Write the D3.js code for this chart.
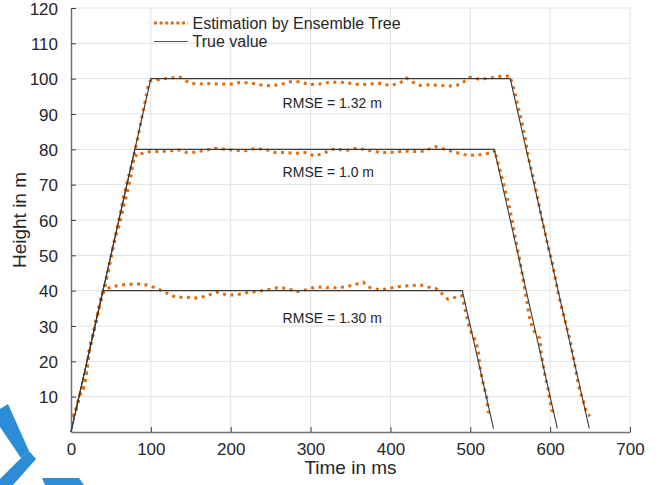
<!DOCTYPE html>
<html>
<head>
<meta charset="utf-8">
<script src="https://cdn.jsdelivr.net/npm/d3@7"></script>
<style>
  body { margin: 0; background: #fff; }
  text { font-family: "Liberation Sans", Arial, sans-serif; fill: #262626; }
</style>
</head>
<body>
<div id="chart"></div>
<script>
// tick values
var xTicks = [0, 100, 200, 300, 400, 500, 600, 700];
var yTicks = [10, 20, 30, 40, 50, 60, 70, 80, 90, 100, 110, 120];

// true height profiles [time ms, height m]
var true40 = [[0, 0], [40, 40], [490, 40], [529, 1]];
var true80 = [[0, 0], [80, 80], [530, 80], [609, 1]];
var true100 = [[0, 0], [100, 100], [550, 100], [649, 1]];

// estimated heights
var est40 = [[2, 4.3], [6, 6.2], [10.5, 10], [12.5, 11.5], [15, 11.9], [18, 15], [21, 19.5], [23, 23.2],
  [27, 27], [31, 31], [35.5, 35.5], [39, 39], [42.6, 40], [48.8, 41], [61, 41.5], [70, 41.8], [86, 41.9],
  [95, 41.6], [107, 40.7], [116, 39.7], [132, 38.1], [145, 38.2], [153, 37.8], [170, 38.5], [182, 39.6],
  [195, 38.8], [207.5, 38.8], [220, 39.4], [232.5, 39.8], [245, 40.2], [257.6, 40.8], [270, 40.7],
  [282.6, 39.7], [295, 40.3], [307.7, 41.1], [320, 40.8], [332.7, 40.8], [345, 41.1], [357.8, 41.9],
  [366, 42.4], [374, 40.9], [387, 40.2], [399.5, 40.7], [412, 41.2], [424.5, 41.4], [437, 41.6],
  [449.5, 40.9], [458, 40.5], [466, 38.8], [472, 37.6], [481, 38.1], [489, 38.6], [491, 37.4],
  [495.5, 32.6], [499.6, 28.9], [506, 26], [510, 23.2], [512, 18.5], [516, 13.8], [520.5, 10],
  [522.6, 5.7], [529, 5.3]];

var est80 = [[2, 4.3], [6, 6.2], [10.5, 10], [12.5, 11.5], [15, 11.9], [18, 15], [21, 19.5], [23, 23.2],
  [27, 27], [31, 31], [35.5, 35.5], [39, 39], [42, 41.5], [46, 45], [50, 49.6], [54, 54], [58, 58],
  [62, 62], [65, 65.7], [69, 69.5], [73, 73.2], [76, 75.5], [78, 76.5], [80, 78.4], [84.3, 77.9],
  [88.5, 78.8], [97, 79.3], [109, 79.4], [122, 79.5], [134, 79.9], [142.7, 79.2], [155, 79.2],
  [168, 79.7], [180, 80.3], [193, 80], [205, 79.7], [218, 79.6], [230, 80.2], [243, 80], [255.5, 79.1],
  [268, 79.1], [280.5, 78.9], [293, 79.1], [305.5, 78.1], [318, 79.1], [330.6, 80.2], [343, 79.6],
  [355.6, 80.2], [368, 80], [380.7, 79.3], [393, 79.1], [405.7, 79.2], [418, 79.5], [430.7, 79.4],
  [443, 79.5], [455.8, 80.8], [468, 80], [480.8, 79.2], [493, 78.5], [505.9, 78.3], [518, 78.7],
  [528.8, 79.1], [531, 79.8], [533, 77.5], [537, 74.2], [542, 70], [547, 65.5], [552, 60.5], [557, 54],
  [562, 48.7], [566, 43.5], [570, 38], [575, 31.2], [580, 28.5], [587, 26.5], [589, 22], [591.5, 18.5],
  [594.5, 15], [597.7, 11.9], [600, 8.5], [602, 6.2], [606, 5.5], [610, 5.3]];

var est100 = [[2, 4.3], [6, 6.2], [10.5, 10], [12.5, 11.5], [15, 11.9], [18, 15], [21, 19.5], [23, 23.2],
  [27, 27], [31, 31], [35.5, 35.5], [39, 39], [41.7, 40.2], [46, 44.9], [52.2, 51.5], [56, 55.5],
  [60.5, 58.5], [65, 63], [69, 66.5], [75, 72.3], [79.3, 78.9], [83, 82.6], [86.4, 86.4], [90.5, 91.1],
  [94, 94.9], [96.8, 98.2], [99, 99.3], [111.5, 99.8], [124, 100.2], [136.5, 100.4], [149, 98.7],
  [161.5, 98.5], [174, 98.6], [186.5, 98.5], [199, 98.4], [211.5, 98.9], [224, 98.8], [236.7, 98.3],
  [249, 98], [261.6, 98.3], [274, 99.1], [286.6, 99.1], [299, 98.3], [311.7, 98.5], [324, 99],
  [336.8, 99], [349, 98.7], [361.8, 98.3], [374, 98.5], [386.9, 98.7], [399, 98.1], [411.7, 98.7],
  [420, 100.2], [428, 99], [436.9, 98.1], [449, 98.3], [461.9, 98.1], [474, 97.9], [487, 98.3],
  [499.6, 100.4], [512, 99.8], [524.6, 100.2], [537, 100.6], [549.7, 100.8], [553, 98.2], [556, 95.9],
  [560, 92], [564, 88.3], [568.5, 83.6], [572.6, 77.9], [579, 71.8], [584, 66.5], [589, 61], [594, 56],
  [598, 52], [602, 48.7], [606, 44], [610, 39.3], [614, 35.5], [618.6, 31.7], [622, 28.5], [625, 26],
  [629, 21.3], [632, 17.5], [635, 13.8], [638, 11], [641.5, 9.1], [645.7, 5.3], [650, 4.5]];

// RMSE notes: [time, height, text]
var notes = [[265, 93.0, "RMSE = 1.32 m"], [265, 73.7, "RMSE = 1.0 m"], [265, 32.35, "RMSE = 1.30 m"]];

var legendNames = ["Estimation by Ensemble Tree", "True value"];

var estColor = "#e36c0a",
    trueColor = "#3a3a3a";

var margin = { top: 8, right: 37, bottom: 53, left: 71 },
    width = 667 - margin.left - margin.right,
    height = 485 - margin.top - margin.bottom;

var svg = d3.select("#chart")
  .append("svg")
  .attr("width", 667)
  .attr("height", 485);

// blue shapes cut off at the bottom left corner
var deco = [
  [[0, 409], [8, 404], [29, 451], [21, 458], [0, 427]],
  [[21, 458], [29, 451], [36, 459], [13, 485], [0, 485], [0, 479]],
  [[42, 478], [79, 478], [84, 485], [45, 485]]
];
svg.selectAll(".deco")
  .data(deco)
  .enter()
  .append("polygon")
  .attr("points", d => d.map(p => p.join(",")).join(" "))
  .attr("fill", "#2b8cd8");

var g = svg.append("g")
  .attr("transform", "translate(" + margin.left + "," + margin.top + ")");

var x = d3.scaleLinear().domain([0, 700]).range([0, width]);
var y = d3.scaleLinear().domain([0, 120]).range([height, 0]);

// grid
g.append("g")
  .selectAll("line")
  .data(xTicks.slice(1))
  .enter()
  .append("line")
  .attr("x1", d => x(d)).attr("x2", d => x(d))
  .attr("y1", 0).attr("y2", height)
  .attr("stroke", "#e1e1e1").attr("stroke-width", 1);
g.append("g")
  .selectAll("line")
  .data(yTicks)
  .enter()
  .append("line")
  .attr("x1", 0).attr("x2", width)
  .attr("y1", d => y(d)).attr("y2", d => y(d))
  .attr("stroke", "#e1e1e1").attr("stroke-width", 1);

// axes, ticks pointing inward
var xAxis = g.append("g")
  .attr("transform", "translate(0," + height + ")")
  .call(d3.axisBottom(x).tickValues(xTicks).tickSizeInner(-5).tickSizeOuter(0).tickPadding(11));
var yAxis = g.append("g")
  .call(d3.axisLeft(y).tickValues(yTicks).tickSizeInner(-5).tickSizeOuter(0).tickPadding(13));

[xAxis, yAxis].forEach(a => {
  a.select(".domain").attr("stroke", "#727272").attr("stroke-width", 1.5);
  a.selectAll(".tick line").attr("stroke", "#404040");
  a.selectAll(".tick text")
    .attr("font-family", "Liberation Sans, Arial, sans-serif")
    .attr("font-size", 17)
    .attr("fill", "#262626");
});
yAxis.selectAll(".tick text").attr("dy", "0.36em");

var line = d3.line()
  .x(d => x(d[0]))
  .y(d => y(d[1]));

// estimates
g.selectAll(".est")
  .data([est40, est80, est100])
  .enter()
  .append("path")
  .attr("d", line)
  .attr("fill", "none")
  .attr("stroke", estColor)
  .attr("stroke-width", 3)
  .attr("stroke-dasharray", "3,4.5");

// true values
g.selectAll(".truth")
  .data([true40, true80, true100])
  .enter()
  .append("path")
  .attr("d", line)
  .attr("fill", "none")
  .attr("stroke", trueColor)
  .attr("stroke-width", 1.1);

// notes
g.selectAll(".note")
  .data(notes)
  .enter()
  .append("text")
  .attr("x", d => x(d[0]))
  .attr("y", d => y(d[1]))
  .attr("dy", "0.36em")
  .attr("font-size", 14)
  .text(d => d[2]);

// legend
var leg = svg.append("g");
leg.append("line")
  .attr("x1", 154).attr("x2", 188).attr("y1", 23).attr("y2", 23)
  .attr("stroke", estColor).attr("stroke-width", 3).attr("stroke-dasharray", "3,2.6");
leg.append("line")
  .attr("x1", 154).attr("x2", 188).attr("y1", 41.5).attr("y2", 41.5)
  .attr("stroke", "#555").attr("stroke-width", 1.1);
leg.selectAll("text")
  .data(legendNames)
  .enter()
  .append("text")
  .attr("x", 192.5)
  .attr("y", (d, i) => 23 + i * 18.5)
  .attr("dy", "0.36em")
  .attr("font-size", 16)
  .text(d => d);

// axis titles
svg.append("text")
  .attr("x", margin.left + width / 2)
  .attr("y", 474)
  .attr("text-anchor", "middle")
  .attr("font-size", 19)
  .text("Time in ms");
svg.append("text")
  .attr("transform", "translate(26," + (margin.top + height / 2) + ") rotate(-90)")
  .attr("text-anchor", "middle")
  .attr("font-size", 19)
  .text("Height in m");
</script>
</body>
</html>
